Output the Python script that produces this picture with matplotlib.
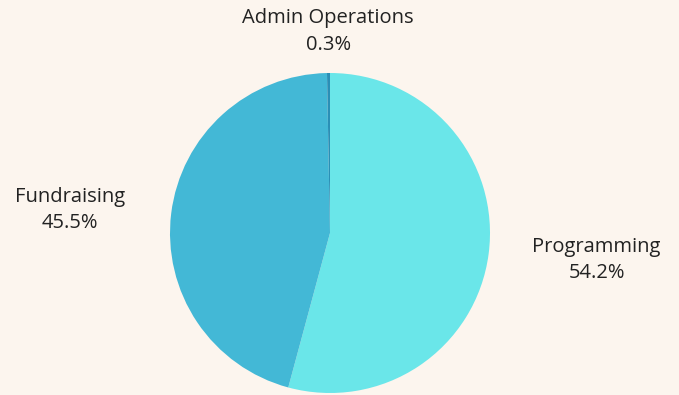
import numpy as np
import matplotlib
matplotlib.use("Agg")
import matplotlib.pyplot as plt

categories = ["Programming", "Fundraising", "Admin Operations"]
shares = [54.2, 45.5, 0.3]
colors = ["#6ae6e9", "#43b8d6", "#2a8fb6"]

# label placement: radial distance and small angular nudge per wedge
label_dist = [1.675, 1.63, 1.26]
label_nudge = [1.8, 1.9, 0.0]

bg = "#fcf5ee"
W, H, dpi = 679, 395, 100
fig = plt.figure(figsize=(W / dpi, H / dpi), dpi=dpi, facecolor=bg)
ax = fig.add_axes([0, 0, 1, 1])
ax.set_facecolor(bg)

wedges, _ = ax.pie(shares, colors=colors, startangle=90, counterclock=False,
                   radius=1.0, center=(0, 0),
                   wedgeprops=dict(linewidth=0))

for w, name, val, d, nudge in zip(wedges, categories, shares, label_dist, label_nudge):
    mid = np.deg2rad((w.theta1 + w.theta2) / 2 + nudge)
    x, y = d * np.cos(mid), d * np.sin(mid)
    ax.text(x, y, f"{name}\n{val:.1f}%", ha="center", va="center",
            fontsize=14.5, color="#222222", family="Open Sans",
            fontstretch="normal", fontweight="normal",
            linespacing=1.42)

# pie centre sits at (330, 233) px with a 160 px radius
px = 160.0
cx, cy = 330, H - 233
ax.set_xlim(-cx / px, (W - cx) / px)
ax.set_ylim(-cy / px, (H - cy) / px)
ax.set_aspect("auto")
ax.axis("off")

fig.savefig("out.png", dpi=dpi, facecolor=bg)
